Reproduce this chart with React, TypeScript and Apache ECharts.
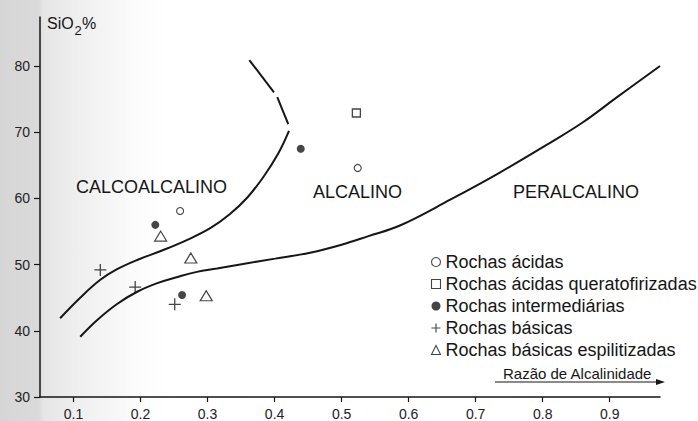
import React, { useEffect, useRef } from "react";
import * as echarts from "echarts";

const FONT = '"Liberation Sans", Arial, Helvetica, sans-serif';
const INK = "#161616";

// Axis ticks
const xTicks = [0.1, 0.2, 0.3, 0.4, 0.5, 0.6, 0.7, 0.8, 0.9];
const yTicks = [30, 40, 50, 60, 70, 80];

// Samples: [razão de alcalinidade, SiO2 %]
const rochasAcidas = [
  [0.259, 58.1],
  [0.524, 64.6],
];
const rochasAcidasQueratofirizadas = [[0.522, 72.9]];
const rochasIntermediarias = [
  [0.222, 56.0],
  [0.262, 45.4],
  [0.439, 67.5],
];
const rochasBasicas = [
  [0.14, 49.2],
  [0.192, 46.6],
  [0.251, 44.0],
];
const rochasBasicasEspilitizadas = [
  [0.23, 54.3],
  [0.275, 51.0],
  [0.298, 45.3],
];

// Field boundaries
const limiteCalcoalcalino = [
  [0.08, 41.9],
  [0.11, 45.0],
  [0.14, 47.7],
  [0.165, 49.3],
  [0.195, 50.7],
  [0.234, 52.2],
  [0.269, 53.7],
  [0.304, 55.5],
  [0.333, 57.6],
  [0.359, 60.1],
  [0.383, 63.2],
  [0.405, 66.7],
  [0.4215, 70.2],
];
const limiteTopoA = [
  [0.3623, 80.9],
  [0.3991, 76.0],
];
const limiteTopoB = [
  [0.404, 75.3],
  [0.4204, 71.2],
];
const limitePeralcalino = [
  [0.11, 39.1],
  [0.135, 41.6],
  [0.165, 44.05],
  [0.195, 45.9],
  [0.225, 47.2],
  [0.254, 48.1],
  [0.284, 48.9],
  [0.314, 49.4],
  [0.353, 50.1],
  [0.401, 50.9],
  [0.453, 51.8],
  [0.5, 53.0],
  [0.54, 54.3],
  [0.587, 55.9],
  [0.662, 59.8],
  [0.736, 63.9],
  [0.811, 68.4],
  [0.86, 71.5],
  [0.911, 75.3],
  [0.975, 80.0],
];

const fieldNames = [
  { text: "CALCOALCALINO", x: 76, y: 187 },
  { text: "ALCALINO", x: 313, y: 192 },
  { text: "PERALCALINO", x: 513, y: 192 },
];

const PLUS = "path://M5 0V10M0 5H10";

const openStyle = { color: "#fff", borderColor: INK, borderWidth: 1.1 };

const boundary = (data: number[][], smooth: number | boolean) => ({
  type: "line",
  data,
  smooth,
  symbol: "none",
  silent: true,
  z: 3,
  lineStyle: { color: INK, width: 2 },
});

export default function App() {
  const ref = useRef<HTMLDivElement>(null);

  useEffect(() => {
    if (!ref.current) return;
    const chart = echarts.init(ref.current, null, { renderer: "svg" });

    const legendItems = [
      { name: "Rochas ácidas", icon: "circle", itemStyle: openStyle },
      { name: "Rochas ácidas queratofirizadas", icon: "rect", itemStyle: openStyle },
      {
        name: "Rochas intermediárias",
        icon: "circle",
        itemStyle: { color: INK, borderColor: INK, borderWidth: 0 },
      },
      {
        name: "Rochas básicas",
        icon: PLUS,
        itemStyle: { color: "none", borderColor: INK, borderWidth: 1.1 },
      },
      { name: "Rochas básicas espilitizadas", icon: "triangle", itemStyle: openStyle },
    ];

    chart.setOption({
      animation: false,
      backgroundColor: "#fff",
      textStyle: { fontFamily: FONT },
      grid: {
        left: 40,
        right: 38,
        top: 17,
        bottom: 24,
        containLabel: false,
        outerBoundsMode: "none",
      },
      xAxis: {
        type: "value",
        min: 0.05,
        max: 0.975,
        axisLine: { show: true, onZero: false, lineStyle: { color: INK, width: 1.5 } },
        axisTick: {
          show: true,
          customValues: xTicks,
          length: 5,
          lineStyle: { color: INK, width: 1.2 },
        },
        axisLabel: {
          customValues: xTicks,
          formatter: (v: number) => v.toFixed(1),
          margin: 10,
          fontSize: 14,
          color: "#222",
          fontFamily: FONT,
        },
        splitLine: { show: false },
      },
      yAxis: {
        type: "value",
        min: 30,
        max: 87.4,
        axisLine: { show: true, onZero: false, lineStyle: { color: INK, width: 1.5 } },
        axisTick: {
          show: true,
          customValues: yTicks,
          length: 6,
          lineStyle: { color: INK, width: 1.2 },
        },
        axisLabel: {
          customValues: yTicks,
          margin: 10,
          fontSize: 14,
          color: "#222",
          fontFamily: FONT,
        },
        splitLine: { show: false },
      },
      legend: {
        orient: "vertical",
        left: 429,
        top: 253,
        padding: 0,
        itemWidth: 9,
        itemHeight: 9,
        itemGap: 4,
        selectedMode: false,
        textStyle: { fontSize: 18, fontFamily: FONT, color: INK },
        data: legendItems,
      },
      graphic: [
        {
          type: "rect",
          z: -10,
          silent: true,
          shape: { x: 0, y: 0, width: 175, height: 421 },
          style: {
            fill: new echarts.graphic.LinearGradient(0, 0, 1, 0, [
              { offset: 0, color: "#d6d6d6" },
              { offset: 0.22, color: "#dadada" },
              { offset: 0.25, color: "#e6e6e6" },
              { offset: 0.45, color: "#efefef" },
              { offset: 0.7, color: "#f8f8f8" },
              { offset: 1, color: "rgba(255,255,255,0)" },
            ]),
          },
        },
        {
          type: "text",
          x: 47,
          y: 23,
          style: { text: "SiO", fontSize: 16, fontFamily: FONT, fill: INK, verticalAlign: "middle" },
        },
        {
          type: "text",
          x: 74.5,
          y: 30,
          style: { text: "2", fontSize: 13, fontFamily: FONT, fill: INK, verticalAlign: "middle" },
        },
        {
          type: "text",
          x: 82,
          y: 23,
          style: { text: "%", fontSize: 16, fontFamily: FONT, fill: INK, verticalAlign: "middle" },
        },
        ...fieldNames.map((f) => ({
          type: "text",
          x: f.x,
          y: f.y,
          style: {
            text: f.text,
            fontSize: 18,
            fontFamily: FONT,
            fill: INK,
            verticalAlign: "middle",
          },
        })),
        {
          type: "text",
          x: 503,
          y: 373,
          style: {
            text: "Razão de Alcalinidade",
            fontSize: 15,
            fontFamily: FONT,
            fill: INK,
            verticalAlign: "middle",
          },
        },
        {
          type: "line",
          shape: { x1: 495, y1: 382, x2: 658, y2: 382 },
          style: { stroke: INK, lineWidth: 1.2 },
        },
        {
          type: "polygon",
          shape: {
            points: [
              [656, 379],
              [665, 382],
              [656, 385],
            ],
          },
          style: { fill: INK },
        },
      ],
      series: [
        boundary(limiteCalcoalcalino, 0.4),
        boundary(limiteTopoA, false),
        boundary(limiteTopoB, false),
        boundary(limitePeralcalino, 0.4),
        {
          name: "Rochas ácidas",
          type: "scatter",
          data: rochasAcidas,
          symbol: "circle",
          symbolSize: 7,
          itemStyle: openStyle,
          z: 5,
        },
        {
          name: "Rochas ácidas queratofirizadas",
          type: "scatter",
          data: rochasAcidasQueratofirizadas,
          symbol: "rect",
          symbolSize: 8,
          itemStyle: { ...openStyle, borderWidth: 1.3 },
          z: 5,
        },
        {
          name: "Rochas intermediárias",
          type: "scatter",
          data: rochasIntermediarias,
          symbol: "circle",
          symbolSize: 8,
          itemStyle: { color: INK },
          z: 5,
        },
        {
          name: "Rochas básicas",
          type: "scatter",
          data: rochasBasicas,
          symbol: PLUS,
          symbolSize: 12,
          itemStyle: { color: "none", borderColor: INK, borderWidth: 1.3 },
          z: 5,
        },
        {
          name: "Rochas básicas espilitizadas",
          type: "scatter",
          data: rochasBasicasEspilitizadas,
          symbol: "triangle",
          symbolSize: [12, 10],
          itemStyle: { ...openStyle, borderWidth: 1.2 },
          z: 5,
        },
      ],
    });

    return () => chart.dispose();
  }, []);

  return (
    <div
      ref={ref}
      style={{ position: "fixed", left: 0, top: 0, width: 698, height: 421, background: "#fff" }}
    />
  );
}
